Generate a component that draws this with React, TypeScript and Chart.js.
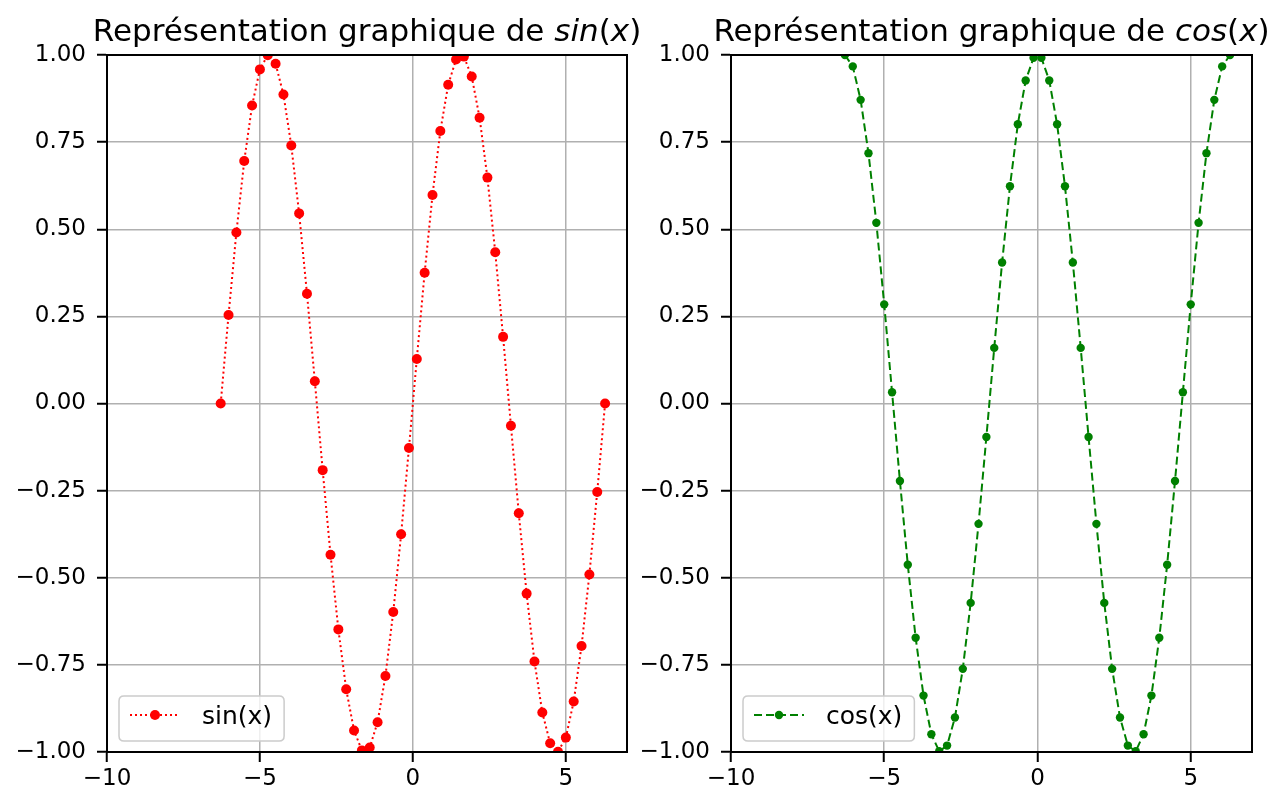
import React, { useEffect, useRef } from 'react';
import { Chart, registerables } from 'chart.js';

Chart.register(...registerables);

// x = points between -2π and 2π
const xValues = [
  -6.2832, -6.0267, -5.7703, -5.5138, -5.2574, -5.0009, -4.7445, -4.488, -4.2315, -3.9751,
  -3.7186, -3.4622, -3.2057, -2.9493, -2.6928, -2.4363, -2.1799, -1.9234, -1.667, -1.4105,
  -1.1541, -0.8976, -0.6411, -0.3847, -0.1282, 0.1282, 0.3847, 0.6411, 0.8976, 1.1541,
  1.4105, 1.667, 1.9234, 2.1799, 2.4363, 2.6928, 2.9493, 3.2057, 3.4622, 3.7186,
  3.9751, 4.2315, 4.488, 4.7445, 5.0009, 5.2574, 5.5138, 5.7703, 6.0267, 6.2832,
];

const sinValues = [
  0, 0.2537, 0.4907, 0.6957, 0.8551, 0.9587, 0.9995, 0.9749, 0.8866, 0.7403,
  0.5455, 0.3151, 0.0641, -0.1912, -0.4339, -0.6482, -0.8201, -0.9385, -0.9954, -0.9872,
  -0.9144, -0.7818, -0.5981, -0.3753, -0.1279, 0.1279, 0.3753, 0.5981, 0.7818, 0.9144,
  0.9872, 0.9954, 0.9385, 0.8201, 0.6482, 0.4339, 0.1912, -0.0641, -0.3151, -0.5455,
  -0.7403, -0.8866, -0.9749, -0.9995, -0.9587, -0.8551, -0.6957, -0.4907, -0.2537, 0,
];

const cosValues = [
  1, 0.9673, 0.8713, 0.7183, 0.5184, 0.2845, 0.0321, -0.2225, -0.4625, -0.6723,
  -0.8381, -0.9491, -0.9979, -0.9816, -0.901, -0.7614, -0.5721, -0.3454, -0.096, 0.1596,
  0.4048, 0.6235, 0.8014, 0.9269, 0.9918, 0.9918, 0.9269, 0.8014, 0.6235, 0.4048,
  0.1596, -0.096, -0.3454, -0.5721, -0.7614, -0.901, -0.9816, -0.9979, -0.9491, -0.8381,
  -0.6723, -0.4625, -0.2225, 0.0321, 0.2845, 0.5184, 0.7183, 0.8713, 0.9673, 1,
];

const xTicks = [-10, -5, 0, 5];
const yTicks = [-1, -0.75, -0.5, -0.25, 0, 0.25, 0.5, 0.75, 1];
const xRange = [-10, 7];
const yRange = [-1, 1];

const titlePrefix = 'Représentation graphique de ';
const sinFunc = 'sin';
const cosFunc = 'cos';
const sinLabel = 'sin(x)';
const cosLabel = 'cos(x)';

const FONT = '"DejaVu Sans", "Liberation Sans", sans-serif';
const TICK_SIZE = 23;
const LEGEND_SIZE = 25;
const TITLE_SIZE = 31;

const W = 1273;
const H = 789;

function minus(s: string) {
  return s.replace('-', '\u2212');
}

type PanelDef = {
  func: string;
  label: string;
  values: number[];
  color: string;
  dash: number[];
  radius: number;
  padLeft: number;
  padRight: number;
};

function makeChart(canvas: HTMLCanvasElement, def: PanelDef) {
  const titlePlugin = {
    id: 'mplTitle',
    afterDraw(chart: any) {
      const ctx = chart.ctx;
      const ca = chart.chartArea;
      const segs = [
        { t: titlePrefix, i: false },
        { t: def.func, i: true },
        { t: '(', i: false },
        { t: 'x', i: true },
        { t: ')', i: false },
      ];
      ctx.save();
      let total = 0;
      const widths = segs.map((s) => {
        ctx.font = `${s.i ? 'italic ' : ''}${TITLE_SIZE}px ${FONT}`;
        const w = ctx.measureText(s.t).width;
        total += w;
        return w;
      });
      let x = (ca.left + ca.right) / 2 - total / 2;
      ctx.fillStyle = '#000';
      ctx.textBaseline = 'alphabetic';
      ctx.textAlign = 'left';
      segs.forEach((s, k) => {
        ctx.font = `${s.i ? 'italic ' : ''}${TITLE_SIZE}px ${FONT}`;
        ctx.fillText(s.t, x, 41);
        x += widths[k];
      });
      ctx.restore();
    },
  };

  const framePlugin = {
    id: 'mplFrame',
    afterDatasetsDraw(chart: any) {
      const ctx = chart.ctx;
      const ca = chart.chartArea;
      ctx.save();
      ctx.strokeStyle = '#000';
      ctx.lineWidth = 2;
      ctx.strokeRect(ca.left, ca.top, ca.right - ca.left, ca.bottom - ca.top);
      ctx.restore();
    },
  };

  const legendPlugin = {
    id: 'mplLegend',
    afterDraw(chart: any) {
      const ctx = chart.ctx;
      const ca = chart.chartArea;
      ctx.save();
      ctx.font = `${LEGEND_SIZE}px ${FONT}`;
      const tw = ctx.measureText(def.label).width;
      const bx = ca.left + 12;
      const by = 696;
      const bw = 83 + tw + 12;
      const bh = 45;
      const r = 5;
      ctx.beginPath();
      ctx.moveTo(bx + r, by);
      ctx.lineTo(bx + bw - r, by);
      ctx.quadraticCurveTo(bx + bw, by, bx + bw, by + r);
      ctx.lineTo(bx + bw, by + bh - r);
      ctx.quadraticCurveTo(bx + bw, by + bh, bx + bw - r, by + bh);
      ctx.lineTo(bx + r, by + bh);
      ctx.quadraticCurveTo(bx, by + bh, bx, by + bh - r);
      ctx.lineTo(bx, by + r);
      ctx.quadraticCurveTo(bx, by, bx + r, by);
      ctx.closePath();
      ctx.fillStyle = 'rgba(255,255,255,0.8)';
      ctx.fill();
      ctx.strokeStyle = '#cccccc';
      ctx.lineWidth = 1.5;
      ctx.stroke();

      const ly = by + 19;
      ctx.strokeStyle = def.color;
      ctx.lineWidth = 2;
      ctx.setLineDash(def.dash);
      ctx.beginPath();
      ctx.moveTo(bx + 11, ly);
      ctx.lineTo(bx + 61, ly);
      ctx.stroke();
      ctx.setLineDash([]);
      ctx.fillStyle = def.color;
      ctx.beginPath();
      ctx.arc(bx + 36, ly, def.radius, 0, Math.PI * 2);
      ctx.fill();

      ctx.fillStyle = '#000';
      ctx.textBaseline = 'middle';
      ctx.textAlign = 'left';
      ctx.fillText(def.label, bx + 83, ly + 2);
      ctx.restore();
    },
  };

  const points = xValues.map((x, i) => ({ x, y: def.values[i] }));

  return new Chart(canvas, {
    type: 'line',
    data: {
      datasets: [
        {
          label: def.label,
          data: points,
          borderColor: def.color,
          backgroundColor: def.color,
          borderWidth: 2,
          borderDash: def.dash,
          pointRadius: def.radius,
          pointHoverRadius: def.radius,
          pointBorderWidth: 0,
          pointBackgroundColor: def.color,
          tension: 0,
          fill: false,
          clip: 0,
        } as any,
      ],
    },
    options: {
      responsive: false,
      animation: false,
      devicePixelRatio: 1,
      events: [],
      layout: { padding: { left: def.padLeft, right: def.padRight, top: 55, bottom: 0 } },
      plugins: {
        legend: { display: false },
        title: { display: false },
        tooltip: { enabled: false },
      },
      scales: {
        x: {
          type: 'linear',
          min: xRange[0],
          max: xRange[1],
          afterFit(scale: any) {
            scale.height = 37;
          },
          afterBuildTicks(scale: any) {
            scale.ticks = xTicks.map((v) => ({ value: v }));
          },
          ticks: {
            includeBounds: false,
            autoSkip: false,
            maxRotation: 0,
            padding: 3,
            color: '#000',
            font: { family: FONT, size: TICK_SIZE },
            callback: (v: any) => minus(String(v)),
          },
          grid: {
            color: '#b0b0b0',
            lineWidth: 1.5,
            drawTicks: true,
            tickLength: 10,
            tickColor: '#000',
            tickWidth: 2,
          },
          border: { display: true, color: '#000', width: 2 },
        },
        y: {
          type: 'linear',
          min: yRange[0],
          max: yRange[1],
          afterFit(scale: any) {
            scale.width = 107;
          },
          afterBuildTicks(scale: any) {
            scale.ticks = yTicks.map((v) => ({ value: v }));
          },
          ticks: {
            autoSkip: false,
            padding: 11,
            color: '#000',
            font: { family: FONT, size: TICK_SIZE },
            callback: (v: any) => minus(Number(v).toFixed(2)),
          },
          grid: {
            color: '#b0b0b0',
            lineWidth: 1.5,
            drawTicks: true,
            tickLength: 10,
            tickColor: '#000',
            tickWidth: 2,
          },
          border: { display: true, color: '#000', width: 2 },
        },
      },
    },
    plugins: [titlePlugin, framePlugin, legendPlugin],
  } as any);
}

export default function App() {
  const leftRef = useRef<HTMLCanvasElement>(null);
  const rightRef = useRef<HTMLCanvasElement>(null);

  useEffect(() => {
    const c1 = makeChart(leftRef.current!, {
      func: sinFunc,
      label: sinLabel,
      values: sinValues,
      color: '#ff0000',
      dash: [2, 3],
      radius: 5,
      padLeft: 0,
      padRight: W - 627,
    });
    const c2 = makeChart(rightRef.current!, {
      func: cosFunc,
      label: cosLabel,
      values: cosValues,
      color: '#008000',
      dash: [8, 4],
      radius: 4.2,
      padLeft: 731 - 107,
      padRight: W - 1252,
    });
    return () => {
      c1.destroy();
      c2.destroy();
    };
  }, []);

  return (
    <div
      style={{
        position: 'fixed',
        left: 0,
        top: 0,
        width: W,
        height: H,
        background: '#fff',
        overflow: 'hidden',
      }}
    >
      <canvas ref={leftRef} width={W} height={H} style={{ position: 'absolute', left: 0, top: 0 }} />
      <canvas ref={rightRef} width={W} height={H} style={{ position: 'absolute', left: 0, top: 0 }} />
    </div>
  );
}
